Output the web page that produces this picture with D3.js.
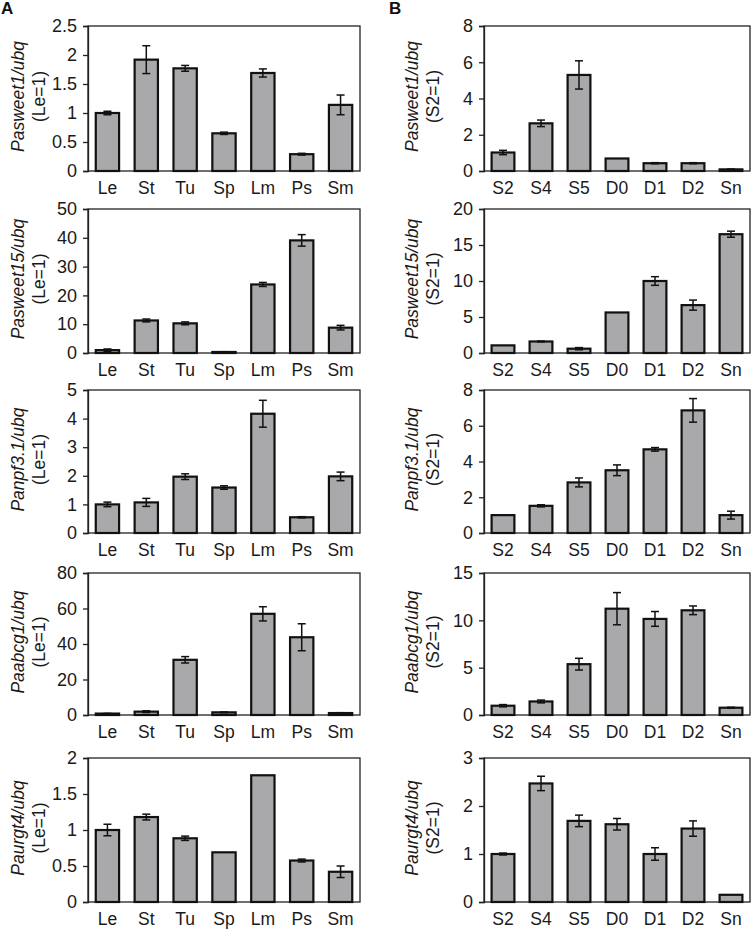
<!DOCTYPE html>
<html><head><meta charset="utf-8">
<script src="https://cdn.jsdelivr.net/npm/d3@7"></script>
<style>body{margin:0;background:#fff}svg{display:block;font-family:"Liberation Sans",Arial,sans-serif}</style>
</head><body><svg id="c" width="756" height="930"></svg>
<script>
const tissues = ["Le","St","Tu","Sp","Lm","Ps","Sm"];
const stages = ["S2","S4","S5","D0","D1","D2","Sn"];
const genes = ["Pasweet1","Pasweet15","Panpf3.1","Paabcg1","Paurgt4"];

// Panel A (tissues, Le=1)
const sweet1Tissue    = [1.0, 1.92, 1.77, 0.65, 1.69, 0.29, 1.14];
const sweet1TissueErr = [0.03, 0.24, 0.05, 0.02, 0.07, 0.015, 0.17];
const sweet15Tissue    = [1.0, 11.3, 10.3, 0.35, 23.8, 39.1, 8.8];
const sweet15TissueErr = [0.4, 0.5, 0.5, 0.1, 0.7, 2.0, 0.8];
const npfTissue    = [1.0, 1.07, 1.97, 1.59, 4.17, 0.55, 1.98];
const npfTissueErr = [0.08, 0.14, 0.1, 0.06, 0.47, 0.02, 0.15];
const abcgTissue    = [0.8, 1.9, 31.1, 1.5, 57.0, 43.8, 1.1];
const abcgTissueErr = [0.1, 0.5, 1.8, 0.2, 4.0, 7.6, 0.2];
const urgtTissue    = [1.0, 1.18, 0.885, 0.69, 1.76, 0.576, 0.42];
const urgtTissueErr = [0.08, 0.04, 0.03, 0.0, 0.0, 0.02, 0.08];

// Panel B (stages, S2=1)
const sweet1Stage    = [1.02, 2.63, 5.3, 0.69, 0.43, 0.43, 0.09];
const sweet1StageErr = [0.12, 0.18, 0.78, 0.0, 0.03, 0.03, 0.02];
const sweet15Stage    = [1.06, 1.6, 0.6, 5.63, 10.0, 6.65, 16.5];
const sweet15StageErr = [0.0, 0.06, 0.15, 0.0, 0.6, 0.7, 0.42];
const npfStage    = [1.0, 1.52, 2.83, 3.51, 4.68, 6.86, 1.0];
const npfStageErr = [0.0, 0.06, 0.25, 0.3, 0.1, 0.66, 0.22];
const abcgStage    = [0.98, 1.43, 5.37, 11.23, 10.15, 11.06, 0.77];
const abcgStageErr = [0.12, 0.15, 0.62, 1.7, 0.78, 0.46, 0.05];
const urgtStage    = [1.0, 2.47, 1.69, 1.62, 1.0, 1.53, 0.15];
const urgtStageErr = [0.02, 0.15, 0.12, 0.12, 0.13, 0.16, 0.0];

const tissueMax  = [2.5, 50, 5, 80, 2];
const tissueStep = [0.5, 10, 1, 20, 0.5];
const stageMax   = [8, 20, 8, 15, 3];
const stageStep  = [2, 5, 2, 5, 1];

const tissueVals = [sweet1Tissue, sweet15Tissue, npfTissue, abcgTissue, urgtTissue];
const tissueErrs = [sweet1TissueErr, sweet15TissueErr, npfTissueErr, abcgTissueErr, urgtTissueErr];
const stageVals = [sweet1Stage, sweet15Stage, npfStage, abcgStage, urgtStage];
const stageErrs = [sweet1StageErr, sweet15StageErr, npfStageErr, abcgStageErr, urgtStageErr];

const svg = d3.select("#c");
const rowTop = [26, 209, 390, 573, 758];
const rowBot = [171, 353, 533, 715, 902];
const colA = {x0: 88, x1: 360, lab1: 24, lab2: 45};
const colB = {x0: 484, x1: 750, lab1: 418, lab2: 439};
const textCol = "#1a1a1a";

function panel(col, r, cats, vals, errs, ymax, step, norm) {
  const g = svg.append("g");
  const x = d3.scaleBand().domain(cats).range([col.x0, col.x1]).paddingInner(0.4).paddingOuter(0.2);
  const y = d3.scaleLinear().domain([0, ymax]).range([rowBot[r], rowTop[r]]);
  const ticks = d3.range(0, ymax + step/2, step);
  // frame
  g.append("rect").attr("x", col.x0).attr("y", rowTop[r]).attr("width", col.x1 - col.x0)
    .attr("height", rowBot[r] - rowTop[r]).attr("fill", "none").attr("stroke", "#222").attr("stroke-width", 1.3);
  const ax = g.append("g").attr("transform", `translate(${col.x0},0)`)
    .call(d3.axisLeft(y).tickValues(ticks).tickSize(5).tickPadding(6).tickFormat(d3.format("~g")));
  ax.select(".domain").attr("stroke", "#222").attr("stroke-width", 1.3);
  ax.selectAll(".tick line").attr("stroke", "#222").attr("stroke-width", 1.3);
  ax.selectAll("text").attr("font-size", 18).attr("fill", textCol).attr("font-family", '"Liberation Sans",Arial,sans-serif');
  // bars
  g.selectAll(".bar").data(cats).enter().append("rect")
    .attr("x", d => x(d)).attr("width", x.bandwidth())
    .attr("y", (d, i) => y(vals[i])).attr("height", (d, i) => y(0) - y(vals[i]))
    .attr("fill", "#a9a9ab").attr("stroke", "#111").attr("stroke-width", 2.2);
  // error bars
  const eb = g.selectAll(".eb").data(cats).enter().append("g").filter((d, i) => errs[i] > 0);
  eb.append("line").attr("x1", d => x(d) + x.bandwidth()/2).attr("x2", d => x(d) + x.bandwidth()/2)
    .attr("y1", d => y(vals[cats.indexOf(d)] + errs[cats.indexOf(d)]))
    .attr("y2", d => y(vals[cats.indexOf(d)] - errs[cats.indexOf(d)]))
    .attr("stroke", "#111").attr("stroke-width", 1.5);
  [1, -1].forEach(s => {
    eb.append("line").attr("x1", d => x(d) + x.bandwidth()/2 - 4).attr("x2", d => x(d) + x.bandwidth()/2 + 4)
      .attr("y1", d => y(vals[cats.indexOf(d)] + s*errs[cats.indexOf(d)]))
      .attr("y2", d => y(vals[cats.indexOf(d)] + s*errs[cats.indexOf(d)]))
      .attr("stroke", "#111").attr("stroke-width", 1.5);
  });
  // category labels
  g.selectAll(".cl").data(cats).enter().append("text")
    .attr("x", d => x(d) + x.bandwidth()/2).attr("y", rowBot[r] + 23)
    .attr("text-anchor", "middle").attr("font-size", 17.5).attr("fill", textCol).text(d => d);
  // y title
  const cy = (rowTop[r] + rowBot[r]) / 2 - 2;
  g.append("text").attr("transform", `translate(${col.lab1},${cy}) rotate(-90)`)
    .attr("text-anchor", "middle").attr("font-size", 17.5).attr("font-style", "italic").attr("fill", textCol)
    .text(genes[r] + "/ubq");
  g.append("text").attr("transform", `translate(${col.lab2},${cy}) rotate(-90)`)
    .attr("text-anchor", "middle").attr("font-size", 17.5).attr("fill", textCol)
    .text("(" + norm + "=1)");
}

for (let r = 0; r < 5; r++) {
  panel(colA, r, tissues, tissueVals[r], tissueErrs[r], tissueMax[r], tissueStep[r], "Le");
  panel(colB, r, stages, stageVals[r], stageErrs[r], stageMax[r], stageStep[r], "S2");
}
svg.append("text").attr("x", 1).attr("y", 14).attr("font-size", 17).attr("font-weight", "bold").attr("fill", "#111").text("A");
svg.append("text").attr("x", 389).attr("y", 14).attr("font-size", 17).attr("font-weight", "bold").attr("fill", "#111").text("B");
</script></body></html>
